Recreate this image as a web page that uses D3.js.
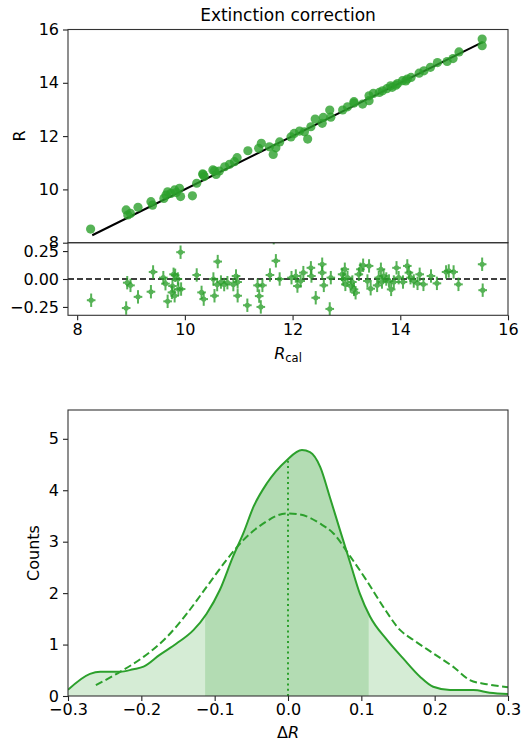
<!DOCTYPE html>
<html>
<head>
<meta charset="utf-8">
<script src="https://cdn.jsdelivr.net/npm/d3@7"></script>
<style>
  body { margin: 0; background: #fff; }
  text { font-family: "DejaVu Sans", sans-serif; fill: #000; }
</style>
</head>
<body>
<svg id="chart" width="521" height="742"></svg>
<script>
// ---- data ----
// top panel: R against R_cal
const scatterRcal = [8.25, 8.91, 8.94, 8.99, 9.13, 9.37, 9.40, 9.61, 9.65, 9.68, 9.74, 9.81, 9.84, 9.90, 9.92,
  10.14, 10.22, 10.33, 10.36, 10.55, 10.34, 10.52, 10.58, 10.64, 10.74, 10.83, 10.92, 10.97, 11.17, 11.37,
  11.42, 11.57, 11.64, 11.69, 11.76, 11.97, 12.03, 12.13, 12.22, 12.28, 12.34, 12.42, 12.55, 12.57, 12.69,
  12.71, 12.93, 13.02, 13.14, 13.14, 13.30, 13.42, 13.42, 13.50, 13.61, 13.67, 13.75, 13.82, 13.85, 13.92,
  13.95, 14.04, 14.10, 14.13, 14.20, 14.35, 14.44, 14.56, 14.69, 14.87, 14.98, 15.09, 15.52, 15.52]
const scatterR = [8.51, 9.23, 9.04, 9.10, 9.33, 9.54, 9.41, 9.66, 9.79, 9.91, 9.85, 9.98, 9.88, 10.04, 9.73,
  9.76, 10.23, 10.58, 10.48, 10.70, 10.56, 10.73, 10.56, 10.69, 10.85, 10.94, 11.04, 11.19, 11.45, 11.54,
  11.73, 11.60, 11.31, 11.56, 11.78, 11.97, 12.10, 12.19, 12.16, 11.89, 12.35, 12.64, 12.48, 12.70, 12.98,
  12.71, 12.98, 13.10, 13.29, 13.24, 13.20, 13.51, 13.33, 13.60, 13.64, 13.70, 13.78, 13.89, 13.83, 13.91,
  13.97, 14.08, 14.07, 14.14, 14.20, 14.36, 14.45, 14.58, 14.76, 14.80, 14.91, 15.16, 15.64, 15.39]
const oneToOne = [8.28, 15.53]

// residual panel
const resRcal = [8.26, 8.91, 8.93, 8.99, 9.13, 9.37, 9.41, 9.60, 9.64, 9.68, 9.76, 9.77, 9.79, 9.81, 9.82,
  9.87, 9.88, 9.92, 9.93, 10.22, 10.31, 10.35, 10.53, 10.55, 10.60, 10.61, 10.67, 10.73, 10.79, 10.90,
  10.95, 10.98, 10.98, 11.16, 11.35, 11.38, 11.41, 11.44, 11.58, 11.65, 11.69, 11.76,
  11.98, 12.06, 12.09, 12.15, 12.20, 12.34, 12.35, 12.43, 12.55, 12.55, 12.58, 12.69, 12.71, 12.92, 12.94,
  12.97, 12.98, 13.02, 13.08, 13.11, 13.14, 13.17, 13.23, 13.26, 13.31, 13.39, 13.42, 13.45, 13.57, 13.60,
  13.64, 13.66, 13.69, 13.74, 13.79, 13.83, 13.88, 13.93, 13.97, 14.05, 14.13, 14.16, 14.19, 14.25, 14.32,
  14.36, 14.43, 14.57, 14.68, 14.85, 14.90, 14.99, 15.08, 15.52, 15.53]
const resDR = [-0.19, -0.26, -0.033, -0.057, -0.16, -0.114, 0.063, 0.012, -0.042, -0.20, -0.12, -0.063, 0.042, -0.15, 0.033,
  0.0, -0.09, 0.24, -0.09, 0.036, -0.12, -0.18, 0.0, -0.15, -0.05, 0.156, -0.027, -0.05, -0.033, -0.05,
  0.027, -0.027, -0.15, -0.235, -0.057, -0.153, -0.25, -0.057, 0.036, 0.37, 0.163, 0.0,
  0.012, 0.027, -0.063, -0.018, 0.057, 0.10, 0.027, -0.168, 0.132, 0.057, -0.057, -0.268, 0.012, 0.042, 0.0,
  0.087, -0.048, 0.012, -0.063, -0.027, -0.093, -0.123, 0.042, 0.087, 0.123, -0.018, 0.117, -0.087, -0.057, 0.012,
  0.087, -0.027, 0.027, 0.0, -0.018, -0.093, -0.027, 0.10, 0.012, -0.027, 0.117, 0.057, 0.012, -0.018, -0.039,
  0.042, -0.048, 0.027, -0.039, 0.063, 0.072, 0.063, -0.048, 0.132, -0.10]
const resErrX = 0.08
const resErrY = 0.06

// bottom panel: distribution of delta R
const kdeX = [-0.300, -0.270, -0.256, -0.229, -0.211, -0.197, -0.175, -0.152, -0.129, -0.111, -0.093, -0.075,
  -0.061, -0.047, -0.029, -0.002, 0.019, 0.030, 0.044, 0.057, 0.071, 0.085, 0.098, 0.112, 0.135, 0.157,
  0.180, 0.198, 0.221, 0.253, 0.275, 0.300]
const kdeY = [0.12, 0.43, 0.47, 0.47, 0.52, 0.57, 0.80, 1.02, 1.28, 1.60, 2.06, 2.71,
  3.16, 3.68, 4.13, 4.58, 4.78, 4.74, 4.45, 3.87, 3.22, 2.58, 1.99, 1.54, 1.09, 0.73,
  0.375, 0.18, 0.117, 0.117, 0.065, 0.04]
const gaussX = [-0.262, -0.229, -0.197, -0.165, -0.138, -0.111, -0.084, -0.061, -0.034, -0.002, 0.016, 0.044,
  0.062, 0.085, 0.107, 0.130, 0.153, 0.171, 0.198, 0.225, 0.248, 0.271, 0.300]
const gaussY = [0.21, 0.47, 0.76, 1.15, 1.60, 2.12, 2.64, 3.03, 3.35, 3.55, 3.53, 3.35,
  3.16, 2.71, 2.25, 1.73, 1.28, 1.09, 0.83, 0.57, 0.31, 0.23, 0.17]
const innerBand = [-0.113, 0.110]
const medianX = 0.0
const medianY = 4.58

// tick labels
const topYTicks = [8, 10, 12, 14, 16]
const rcalTicks = [8, 10, 12, 14, 16]
const resTicks = [-0.25, 0, 0.25]
const drTicks = [-0.3, -0.2, -0.1, 0, 0.1, 0.2, 0.3]
const countTicks = [0, 1, 2, 3, 4, 5]

// ---- layout ----
const green = '#2ca02c'
const fontSize = 16
const svg = d3.select('#chart')
const left = 68, right = 508

const x = d3.scaleLinear().domain([7.83, 16]).range([left, right])
const yTop = d3.scaleLinear().domain([8, 16]).range([242.7, 29.5])
const yRes = d3.scaleLinear().domain([-0.325, 0.325]).range([315.3, 242.7])
const xDr = d3.scaleLinear().domain([-0.3, 0.3]).range([left, right])
const yCnt = d3.scaleLinear().domain([0, 5.56]).range([696, 410])

const defs = svg.append('defs')
function clipRect (id, x0, y0, x1, y1) {
  defs.append('clipPath').attr('id', id).append('rect')
    .attr('x', x0).attr('y', y0).attr('width', x1 - x0).attr('height', y1 - y0)
}
clipRect('clip-top', left, 29.5, right, 242.7)
clipRect('clip-res', left, 242.7, right, 315.3)
clipRect('clip-bot', left, 410, right, 696)
clipRect('clip-band', xDr(innerBand[0]), 410, xDr(innerBand[1]), 696)

function styleAxis (g) {
  g.select('.domain').remove()
  g.selectAll('.tick line').attr('stroke', '#222').attr('stroke-width', 1.1)
  g.selectAll('.tick text')
    .style('font-size', `${fontSize}px`)
    .style('font-family', '"DejaVu Sans", sans-serif')
    .attr('fill', '#000')
}
function fmtMinus (f) {
  return (d) => f(d).replace('-', '\u2212')
}
function frame (y0, y1) {
  svg.append('rect')
    .attr('x', left).attr('y', y0).attr('width', right - left).attr('height', y1 - y0)
    .attr('fill', 'none').attr('stroke', '#333').attr('stroke-width', 1.1)
}

// ---- top panel ----
let gTop = svg.append('g').attr('clip-path', 'url(#clip-top)')
gTop.append('line')
  .attr('x1', x(oneToOne[0])).attr('y1', yTop(oneToOne[0]))
  .attr('x2', x(oneToOne[1])).attr('y2', yTop(oneToOne[1]))
  .attr('stroke', '#000').attr('stroke-width', 2)
gTop.selectAll('circle')
  .data(d3.zip(scatterRcal, scatterR))
  .join('circle')
  .attr('cx', (d) => x(d[0]))
  .attr('cy', (d) => yTop(d[1]))
  .attr('r', 4.6)
  .attr('fill', green)
  .attr('fill-opacity', 0.8)

svg.append('g').attr('transform', `translate(${left},0)`)
  .call(d3.axisLeft(yTop).tickValues(topYTicks).tickSize(5).tickPadding(4))
  .call(styleAxis)

svg.append('text')
  .attr('x', (left + right) / 2).attr('y', 21)
  .attr('text-anchor', 'middle')
  .style('font-size', '17px')
  .text('Extinction correction')

svg.append('text')
  .attr('transform', `translate(25,136) rotate(-90)`)
  .attr('text-anchor', 'middle')
  .style('font-size', `${fontSize}px`)
  .text('R')

// ---- residual panel ----
let gRes = svg.append('g').attr('clip-path', 'url(#clip-res)')
gRes.append('line')
  .attr('x1', left).attr('x2', right)
  .attr('y1', yRes(0)).attr('y2', yRes(0))
  .attr('stroke', '#000').attr('stroke-width', 1.5)
  .attr('stroke-dasharray', '6,3')

let resPts = d3.zip(resRcal, resDR)
let eb = gRes.selectAll('g.eb').data(resPts).join('g').classed('eb', true)
  .attr('opacity', 0.8)
eb.append('line')
  .attr('x1', (d) => x(d[0] - resErrX)).attr('x2', (d) => x(d[0] + resErrX))
  .attr('y1', (d) => yRes(d[1])).attr('y2', (d) => yRes(d[1]))
  .attr('stroke', green).attr('stroke-width', 2)
eb.append('line')
  .attr('x1', (d) => x(d[0])).attr('x2', (d) => x(d[0]))
  .attr('y1', (d) => yRes(d[1] - resErrY)).attr('y2', (d) => yRes(d[1] + resErrY))
  .attr('stroke', green).attr('stroke-width', 2)
eb.append('circle')
  .attr('cx', (d) => x(d[0])).attr('cy', (d) => yRes(d[1]))
  .attr('r', 2.6).attr('fill', green)

svg.append('g').attr('transform', `translate(${left},0)`)
  .call(d3.axisLeft(yRes).tickValues(resTicks).tickSize(5).tickPadding(4)
    .tickFormat(fmtMinus(d3.format('.2f'))))
  .call(styleAxis)
svg.append('g').attr('transform', 'translate(0,315.3)')
  .call(d3.axisBottom(x).tickValues(rcalTicks).tickSize(5).tickPadding(3))
  .call(styleAxis)

let rcalLabel = svg.append('text')
  .attr('x', (left + right) / 2).attr('y', 359)
  .attr('text-anchor', 'middle')
  .style('font-size', `${fontSize}px`)
rcalLabel.append('tspan').style('font-style', 'italic').text('R')
rcalLabel.append('tspan').attr('dy', 3).style('font-size', '11.5px').text('cal')

frame(29.5, 242.7)
frame(242.7, 315.3)

// ---- bottom panel ----
let gBot = svg.append('g').attr('clip-path', 'url(#clip-bot)')
let kde = d3.zip(kdeX, kdeY)
let area = d3.area()
  .x((d) => xDr(d[0]))
  .y0(yCnt(0))
  .y1((d) => yCnt(d[1]))
  .curve(d3.curveMonotoneX)
gBot.append('path').datum(kde).attr('d', area)
  .attr('fill', green).attr('fill-opacity', 0.2)
gBot.append('path').datum(kde).attr('d', area)
  .attr('clip-path', 'url(#clip-band)')
  .attr('fill', green).attr('fill-opacity', 0.2)

gBot.append('path').datum(kde)
  .attr('d', d3.line().x((d) => xDr(d[0])).y((d) => yCnt(d[1])).curve(d3.curveMonotoneX))
  .attr('fill', 'none').attr('stroke', green).attr('stroke-width', 2)

gBot.append('path').datum(d3.zip(gaussX, gaussY))
  .attr('d', d3.line().x((d) => xDr(d[0])).y((d) => yCnt(d[1])).curve(d3.curveMonotoneX))
  .attr('fill', 'none').attr('stroke', green).attr('stroke-width', 2)
  .attr('stroke-dasharray', '7.5,3.5')

gBot.append('line')
  .attr('x1', xDr(medianX)).attr('x2', xDr(medianX))
  .attr('y1', yCnt(0)).attr('y2', yCnt(medianY))
  .attr('stroke', green).attr('stroke-width', 2)
  .attr('stroke-dasharray', '2,3.3')

svg.append('g').attr('transform', `translate(${left},0)`)
  .call(d3.axisLeft(yCnt).tickValues(countTicks).tickSize(5).tickPadding(4)
    .tickFormat(d3.format('d')))
  .call(styleAxis)
svg.append('g').attr('transform', 'translate(0,696)')
  .call(d3.axisBottom(xDr).tickValues(drTicks).tickSize(5).tickPadding(3)
    .tickFormat(fmtMinus(d3.format('.1f'))))
  .call(styleAxis)

svg.append('text')
  .attr('transform', `translate(39,553) rotate(-90)`)
  .attr('text-anchor', 'middle')
  .style('font-size', `${fontSize}px`)
  .text('Counts')

let drLabel = svg.append('text')
  .attr('x', (left + right) / 2).attr('y', 738)
  .attr('text-anchor', 'middle')
  .style('font-size', `${fontSize}px`)
drLabel.append('tspan').text('\u0394')
drLabel.append('tspan').style('font-style', 'italic').text('R')

frame(410, 696)
</script>
</body>
</html>
